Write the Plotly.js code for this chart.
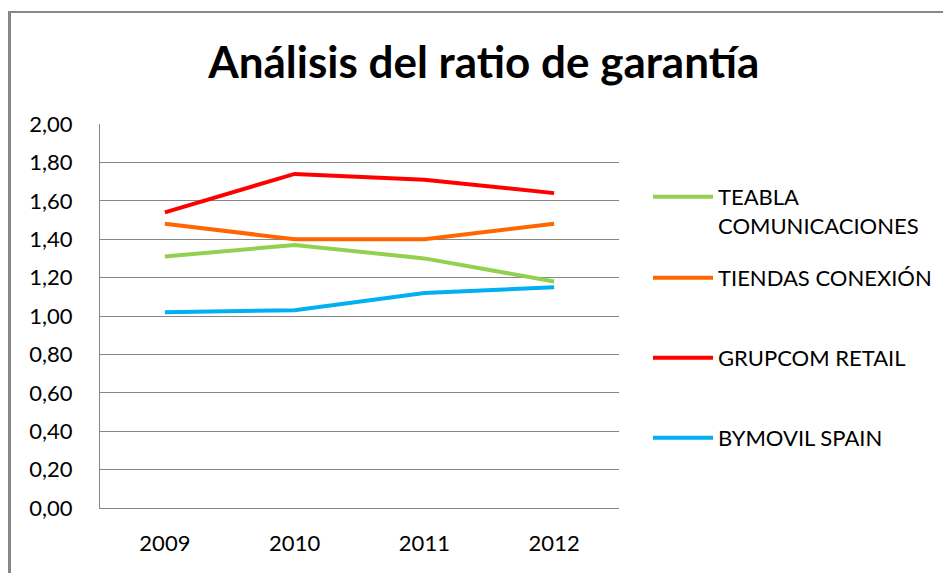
<!DOCTYPE html>
<html>
<head>
<meta charset="utf-8">
<script src="https://cdn.plot.ly/plotly-3.0.1.min.js"></script>
<style>
  body { margin: 0; background: #fff; }
  #wrap { position: relative; width: 943px; height: 573px; }
  #chart { width: 943px; height: 573px; }
  #frame { position: absolute; left: 8px; top: 11px; right: -5px; bottom: -5px;
           border-left: 3px solid #878787; border-top: 2px solid #878787; pointer-events: none; }
</style>
</head>
<body>
<div id="wrap"><div id="chart"></div><div id="frame"></div></div>
<script>
const years = ["2009", "2010", "2011", "2012"];
const teabla = [1.31, 1.37, 1.30, 1.18];
const tiendas = [1.48, 1.40, 1.40, 1.48];
const grupcom = [1.54, 1.74, 1.71, 1.64];
const bymovil = [1.02, 1.03, 1.12, 1.15];

const names = ["TEABLA<br>COMUNICACIONES", "TIENDAS CONEXIÓN", "GRUPCOM RETAIL", "BYMOVIL SPAIN"];
const colors = ["#92D050", "#FF6600", "#FF0000", "#00B0F0"];
const series = [teabla, tiendas, grupcom, bymovil];
// one legend box per series, so the entries can sit where Excel spread them
const legendIds = ["legend", "legend2", "legend3", "legend4"];
const legendTops = [176, 257, 337, 417];

const font = "Lato, 'Open Sans', sans-serif";

const traces = series.map((s, i) => ({
  x: years,
  y: s,
  type: "scatter",
  mode: "lines",
  name: names[i],
  legend: legendIds[i],
  line: { color: colors[i], width: 4 }
}));

const layout = {
  width: 943,
  height: 573,
  separators: ",.",
  font: { family: font, size: 22, color: "#000" },
  margin: { t: 124, r: 324, b: 65, l: 100 },
  title: {
    text: "<b>Análisis del ratio de garantía</b>",
    font: { family: font, size: 44, color: "#000" },
    xref: "container", x: 0.513, xanchor: "center",
    yref: "container", y: 1 - 63 / 573, yanchor: "middle"
  },
  xaxis: {
    type: "category",
    range: [-0.5, 3.5],
    showgrid: false,
    showline: true,
    linecolor: "#868686",
    linewidth: 1,
    ticks: "",
    ticklabelstandoff: 16
  },
  yaxis: {
    range: [0, 2],
    dtick: 0.2,
    tickformat: ".2f",
    showgrid: true,
    gridcolor: "#868686",
    gridwidth: 1,
    showline: true,
    linecolor: "#868686",
    zeroline: false,
    ticks: "",
    ticklabelstandoff: 22
  },
  showlegend: true,
  plot_bgcolor: "#fff",
  paper_bgcolor: "#fff"
};

legendIds.forEach((id, i) => {
  layout[id] = {
    xref: "container", x: 648 / 943, xanchor: "left",
    yref: "container", y: 1 - legendTops[i] / 573, yanchor: "top",
    valign: "top",
    itemwidth: 60,
    font: { family: font, size: 22, color: "#000" },
    bgcolor: "rgba(0,0,0,0)"
  };
});

Plotly.newPlot("chart", traces, layout, { displayModeBar: false, staticPlot: true });
</script>
</body>
</html>
